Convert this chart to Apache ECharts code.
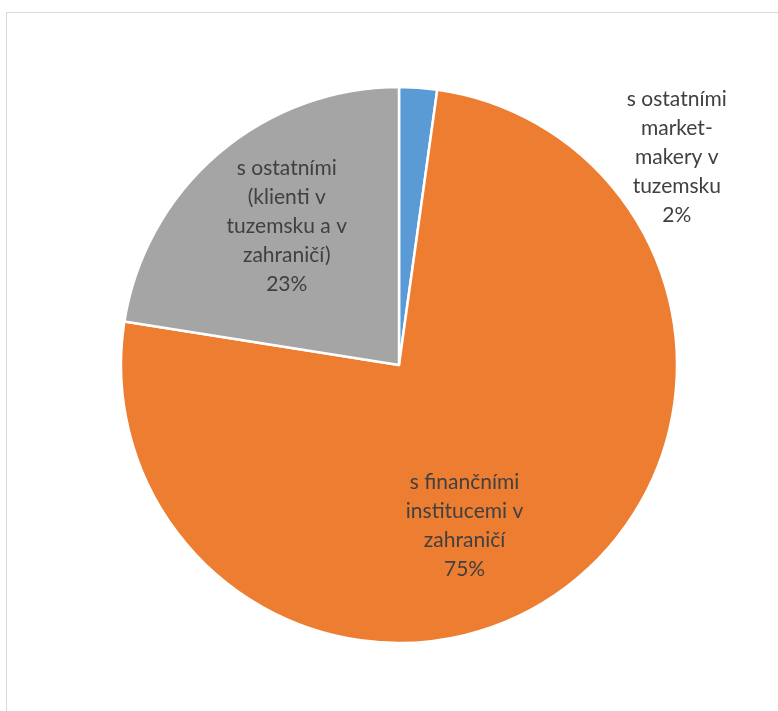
<!DOCTYPE html>
<html>
<head>
<meta charset="utf-8">
<style>
html,body{margin:0;padding:0;background:#fff;}
#chart{width:778px;height:711px;}
</style>
<script src="https://cdn.jsdelivr.net/npm/echarts@6/dist/echarts.min.js"></script>
</head>
<body>
<div id="chart"></div>
<script>
const categories = [
  "s ostatními\nmarket-\nmakery v\ntuzemsku",
  "s finančními\ninstitucemi v\nzahraničí",
  "s ostatními\n(klienti v\ntuzemsku a v\nzahraničí)"
];
const values = [2.2, 75.3, 22.5];
const colors = ["#5b9bd5", "#ed7d31", "#a5a5a5"];
const labelOffsets = [[268, -66], [-19, 47], [-20, -31]];

const chart = echarts.init(document.getElementById('chart'));
chart.setOption({
  animation: false,
  graphic: [{
    type: 'rect',
    shape: { x: 6.5, y: 12.5, width: 900, height: 900 },
    style: { fill: 'none', stroke: '#d9d9d9', lineWidth: 1 },
    silent: true
  }],
  series: [{
    type: 'pie',
    center: [399, 365],
    radius: 278,
    startAngle: 90,
    clockwise: true,
    percentPrecision: 0,
    avoidLabelOverlap: false,
    itemStyle: { borderColor: '#fff', borderWidth: 2.5 },
    label: {
      position: 'inside',
      formatter: '{b}\n{d}%',
      fontFamily: 'Lato',
      fontSize: 21,
      lineHeight: 29,
      color: '#404040',
      align: 'center'
    },
    labelLine: { show: false },
    emphasis: { disabled: true },
    data: categories.map((c, i) => ({
      name: c,
      value: values[i],
      itemStyle: { color: colors[i] },
      label: { offset: labelOffsets[i] }
    }))
  }]
});
</script>
</body>
</html>
